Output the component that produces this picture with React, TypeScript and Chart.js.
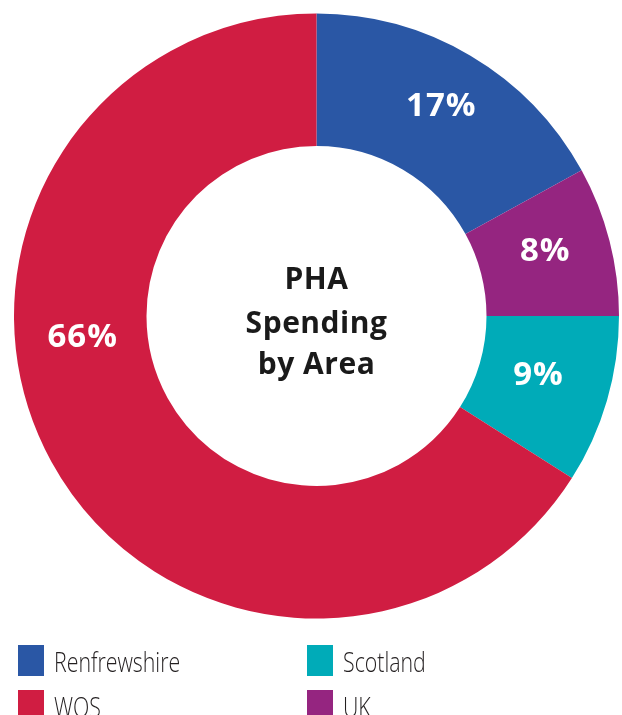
import React, { useEffect, useRef } from "react";
import { Chart, registerables } from "chart.js";

Chart.register(...registerables);

const categories = ["Renfrewshire", "UK", "Scotland", "WOS"];
const values = [17, 8, 9, 66];
const valueLabels = ["17%", "8%", "9%", "66%"];
const colors = ["#2a57a5", "#952580", "#00abb8", "#d01d42"];
const legendOrder = ["Renfrewshire", "WOS", "Scotland", "UK"];
const centerTitle = ["PHA", "Spending", "by Area"];

const labelPlugin = {
  id: "sliceLabels",
  afterDatasetsDraw(chart: any, _args: any, opts: any) {
    const ctx = chart.ctx;
    const meta = chart.getDatasetMeta(0);
    ctx.save();
    ctx.fillStyle = "#ffffff";
    ctx.font = "700 33px 'Open Sans'";
    (ctx as any).letterSpacing = "1px";
    ctx.textAlign = "center";
    ctx.textBaseline = "middle";
    meta.data.forEach((arc: any, i: number) => {
      const p = arc.getProps(["x", "y", "startAngle", "endAngle", "innerRadius", "outerRadius"], true);
      const f = opts.fractions[i];
      const a = p.startAngle + (p.endAngle - p.startAngle) * f;
      const r = (p.innerRadius + p.outerRadius) / 2 + opts.radialShift[i];
      ctx.fillText(valueLabels[i], p.x + Math.cos(a) * r + 0.5, p.y + Math.sin(a) * r + 1);
    });
    // center title
    const cx = meta.data[0].x;
    const cy = meta.data[0].y;
    ctx.fillStyle = "#1a1a1a";
    ctx.font = "700 30px 'Open Sans'";
    (ctx as any).letterSpacing = "0.5px";
    ctx.textBaseline = "alphabetic";
    const offs = [-27, 17, 58];
    centerTitle.forEach((t, i) => ctx.fillText(t, cx, cy + offs[i]));
    ctx.restore();
  },
  afterDraw(chart: any) {
    const ctx = chart.ctx;
    ctx.save();
    ctx.font = "300 27px 'Open Sans'";
    ctx.textBaseline = "alphabetic";
    ctx.textAlign = "left";
    legendOrder.forEach((name, k) => {
      const idx = categories.indexOf(name);
      const col = Math.floor(k / 2);
      const row = k % 2;
      const x = 18 + col * 289;
      const y = 645 + row * 45;
      ctx.fillStyle = colors[idx];
      ctx.fillRect(x, y, 26, 31);
      ctx.fillStyle = "#231f20";
      ctx.save();
      ctx.translate(x + 36, y + 27);
      ctx.scale(0.79, 1);
      ctx.fillText(name, 0, 0);
      ctx.restore();
    });
    ctx.restore();
  },
};

export default function App() {
  const ref = useRef<HTMLCanvasElement | null>(null);
  useEffect(() => {
    if (!ref.current) return;
    const chart = new Chart(ref.current, {
      type: "doughnut",
      data: {
        labels: categories,
        datasets: [
          {
            data: values,
            backgroundColor: colors,
            borderWidth: 0,
            hoverOffset: 0,
          },
        ],
      },
      options: {
        responsive: false,
        animation: false,
        cutout: "56.2%",
        layout: { padding: { left: 14, right: 3, top: 13.5, bottom: 96.5 } },
        plugins: {
          legend: { display: false },
          tooltip: { enabled: false },
          sliceLabels: {
            fractions: [0.5, 0.448, 0.46, 0.6],
            radialShift: [8, 1, -7, -1],
          },
        } as any,
      },
      plugins: [labelPlugin],
    });
    return () => chart.destroy();
  }, []);
  return (
    <div style={{ position: "absolute", left: 0, top: 0, width: 622, height: 715, overflow: "hidden", background: "#fff" }}>
      <canvas ref={ref} width={622} height={715} style={{ display: "block", width: 622, height: 715 }} />
    </div>
  );
}
